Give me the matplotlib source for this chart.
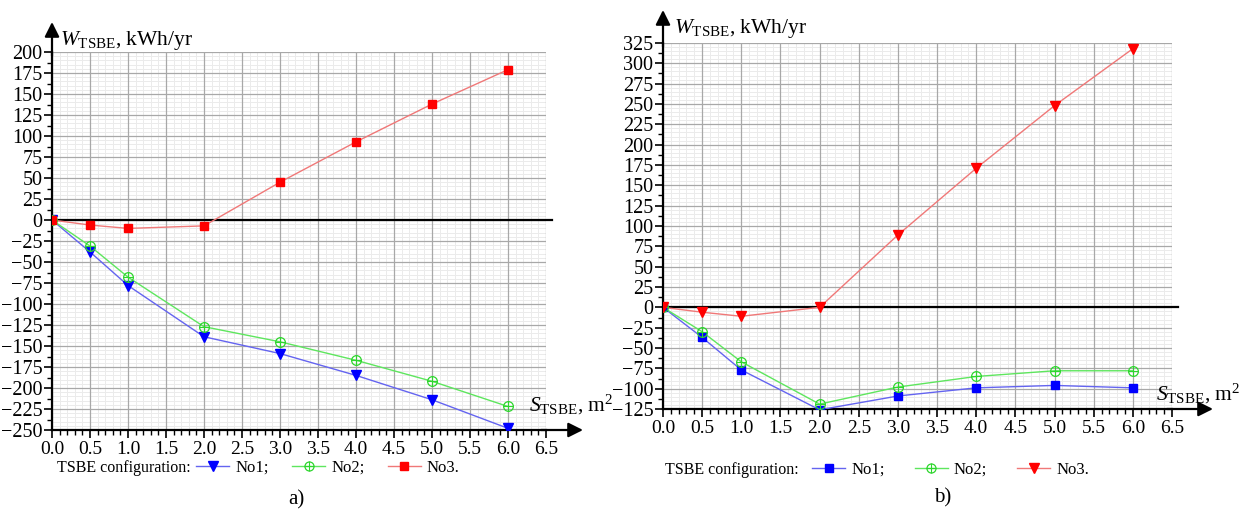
import matplotlib
matplotlib.use('Agg')
import matplotlib.pyplot as plt
from matplotlib.lines import Line2D
from matplotlib.legend_handler import HandlerTuple
from matplotlib.ticker import MultipleLocator

plt.rcParams['font.family'] = ['Liberation Serif', 'DejaVu Serif']
plt.rcParams['mathtext.fontset'] = 'custom'
plt.rcParams['mathtext.rm'] = 'Liberation Serif'
plt.rcParams['mathtext.it'] = 'Liberation Serif:italic'

# TSBE area, m2
area = [0.0, 0.5, 1.0, 2.0, 3.0, 4.0, 5.0, 6.0]

# panel a), kWh/yr
a_no1 = [0, -38, -78, -139, -159, -185, -214, -248]
a_no2 = [0, -31, -68, -127, -145, -167, -192, -222]
a_no3 = [0, -6, -10, -7, 45, 93, 138, 179]

# panel b), kWh/yr
b_no1 = [0, -37, -77, -126, -109, -99, -96, -99]
b_no2 = [0, -30, -67, -119, -98, -85, -78, -78]
b_no3 = [0, -6, -11, 0, 89, 171, 248, 318]

x_ticks = [0.0, 0.5, 1.0, 1.5, 2.0, 2.5, 3.0, 3.5, 4.0, 4.5, 5.0, 5.5, 6.0, 6.5]

W, H = 1243, 514
fig = plt.figure(figsize=(W / 100, H / 100), dpi=100)


def px(x, y):
    return x / W, 1 - y / H


def make_axes(left, top, right, bottom):
    return fig.add_axes([left / W, 1 - bottom / H, (right - left) / W, (bottom - top) / H])


BLUE_L, BLUE_M = '#6464f0', '#0000ff'
GREEN_L, GREEN_M = '#5ee65e', '#2ed62e'
RED_L, RED_M = '#f07878', '#ff0000'


def draw_series(ax, y, kind):
    if kind == 'tri':
        ax.plot(area, y, color=BLUE_L, lw=1, zorder=3)
        ax.plot(area, y, ls='none', marker='v', ms=7.5, color=BLUE_M, zorder=4)
    elif kind == 'sq_blue':
        ax.plot(area, y, color=BLUE_L, lw=1, zorder=3)
        ax.plot(area, y, ls='none', marker='s', ms=6, color=BLUE_M, zorder=4)
    elif kind == 'circ':
        ax.plot(area, y, color=GREEN_L, lw=1, zorder=3)
        ax.plot(area, y, ls='none', marker='o', ms=7, mfc='none', mec=GREEN_M, mew=0.9, zorder=4)
        ax.plot(area, y, ls='none', marker='+', ms=7, mec=GREEN_M, mew=0.8, zorder=4)
    elif kind == 'sq_red':
        ax.plot(area, y, color=RED_L, lw=1, zorder=3)
        ax.plot(area, y, ls='none', marker='s', ms=6, color=RED_M, zorder=4)
    elif kind == 'tri_red':
        ax.plot(area, y, color=RED_L, lw=1, zorder=3)
        ax.plot(area, y, ls='none', marker='v', ms=7.5, color=RED_M, zorder=4)


def style_axes(ax, ymin, ymax, ext_x, ext_y):
    ax.set_xlim(0, 6.5)
    ax.set_ylim(ymin, ymax)
    ax.set_xticks(x_ticks)
    ax.set_xticklabels(['%.1f' % t for t in x_ticks])
    ax.set_yticks(list(range(ymin, ymax + 1, 25)))
    ax.xaxis.set_minor_locator(MultipleLocator(0.1))
    ax.yaxis.set_minor_locator(MultipleLocator(12.5))
    for s in ('top', 'right'):
        ax.spines[s].set_visible(False)
    for s in ('left', 'bottom'):
        ax.spines[s].set_linewidth(1.6)
    # fine grid: every 0.1 m2 and every 5 kWh/yr
    for k in range(1, 65):
        if k % 5:
            ax.axvline(k / 10, color='#ebebeb', lw=0.7, zorder=0)
    for v in range(ymin, ymax + 1, 5):
        if v % 25:
            ax.axhline(v, color='#ebebeb', lw=0.7, zorder=0)
    ax.grid(which='major', color='#a8a8a8', lw=0.9, zorder=1)
    ax.set_axisbelow(True)
    ax.tick_params(which='major', direction='out', length=6, width=1.2,
                   labelsize=14, pad=2)
    ax.tick_params(axis='y', which='major', pad=1, labelsize=14.5)
    ax.tick_params(which='minor', direction='out', length=3.5, width=1)
    ax.axhline(0, xmin=0, xmax=1.012, color='k', lw=1.6, zorder=2, clip_on=False)
    # axis arrows
    ax.annotate('', xy=(0, 1 + ext_y), xycoords='axes fraction', xytext=(0, 0.99),
                arrowprops=dict(arrowstyle='-|>', color='k', lw=1.6, mutation_scale=22,
                                shrinkA=0, shrinkB=0))
    ax.annotate('', xy=(1 + ext_x, 0), xycoords='axes fraction', xytext=(0.99, 0),
                arrowprops=dict(arrowstyle='-|>', color='k', lw=1.6, mutation_scale=22,
                                shrinkA=0, shrinkB=0))


# ---- panel a)
ax_a = make_axes(52, 52, 546, 430)
draw_series(ax_a, a_no1, 'tri')
draw_series(ax_a, a_no2, 'circ')
draw_series(ax_a, a_no3, 'sq_red')
style_axes(ax_a, -250, 200, 37 / 494, 30 / 378)

# ---- panel b)
ax_b = make_axes(663, 43, 1172, 409)
draw_series(ax_b, b_no1, 'sq_blue')
draw_series(ax_b, b_no2, 'circ')
draw_series(ax_b, b_no3, 'tri_red')
style_axes(ax_b, -125, 325, 41 / 509, 33 / 366)

# axis titles
ylab = r'$W_{\mathrm{TSBE}}$, kWh/yr'
xlab = r'$S_{\mathrm{TSBE}}$, m$^2$'
fig.text(*px(60, 45), ylab, fontsize=15.5, ha='left', va='baseline')
fig.text(*px(674, 33), ylab, fontsize=15.5, ha='left', va='baseline')
fig.text(*px(529, 411), xlab, fontsize=15.5, ha='left', va='baseline')
fig.text(*px(1156, 400), xlab, fontsize=15.5, ha='left', va='baseline')


# legends
def handles(first, third):
    h1 = Line2D([], [], color=BLUE_L, lw=1, marker=first, ms=7 if first == 'v' else 5.5,
                mfc=BLUE_M, mec=BLUE_M)
    h2a = Line2D([], [], color=GREEN_L, lw=1, marker='o', ms=6.5, mfc='none', mec=GREEN_M, mew=0.9)
    h2b = Line2D([], [], ls='none', marker='+', ms=6.5, mec=GREEN_M, mew=0.8)
    h3 = Line2D([], [], color=RED_L, lw=1, marker=third, ms=7 if third == 'v' else 5.5,
                mfc=RED_M, mec=RED_M)
    return [h1, (h2a, h2b), h3]


def add_legend(x_text, x_leg, y, first, third, colsp):
    fig.text(*px(x_text, y), 'TSBE configuration:', fontsize=11.5, ha='left', va='center')
    fig.legend(handles(first, third), ['No1;', 'No2;', 'No3.'], ncol=3, frameon=False,
               loc='center left', bbox_to_anchor=px(x_leg, y), fontsize=12,
               handlelength=2.0, handletextpad=0.35, columnspacing=colsp, borderpad=0,
               borderaxespad=0, handler_map={tuple: HandlerTuple(ndivide=1)})


add_legend(57, 196, 468, 'v', 's', 1.4)
add_legend(665, 812, 470, 's', 'v', 1.8)

fig.text(*px(296, 500), 'a)', fontsize=15, ha='center', va='center')
fig.text(*px(943, 498), 'b)', fontsize=15, ha='center', va='center')

fig.savefig('out.png', dpi=100)
